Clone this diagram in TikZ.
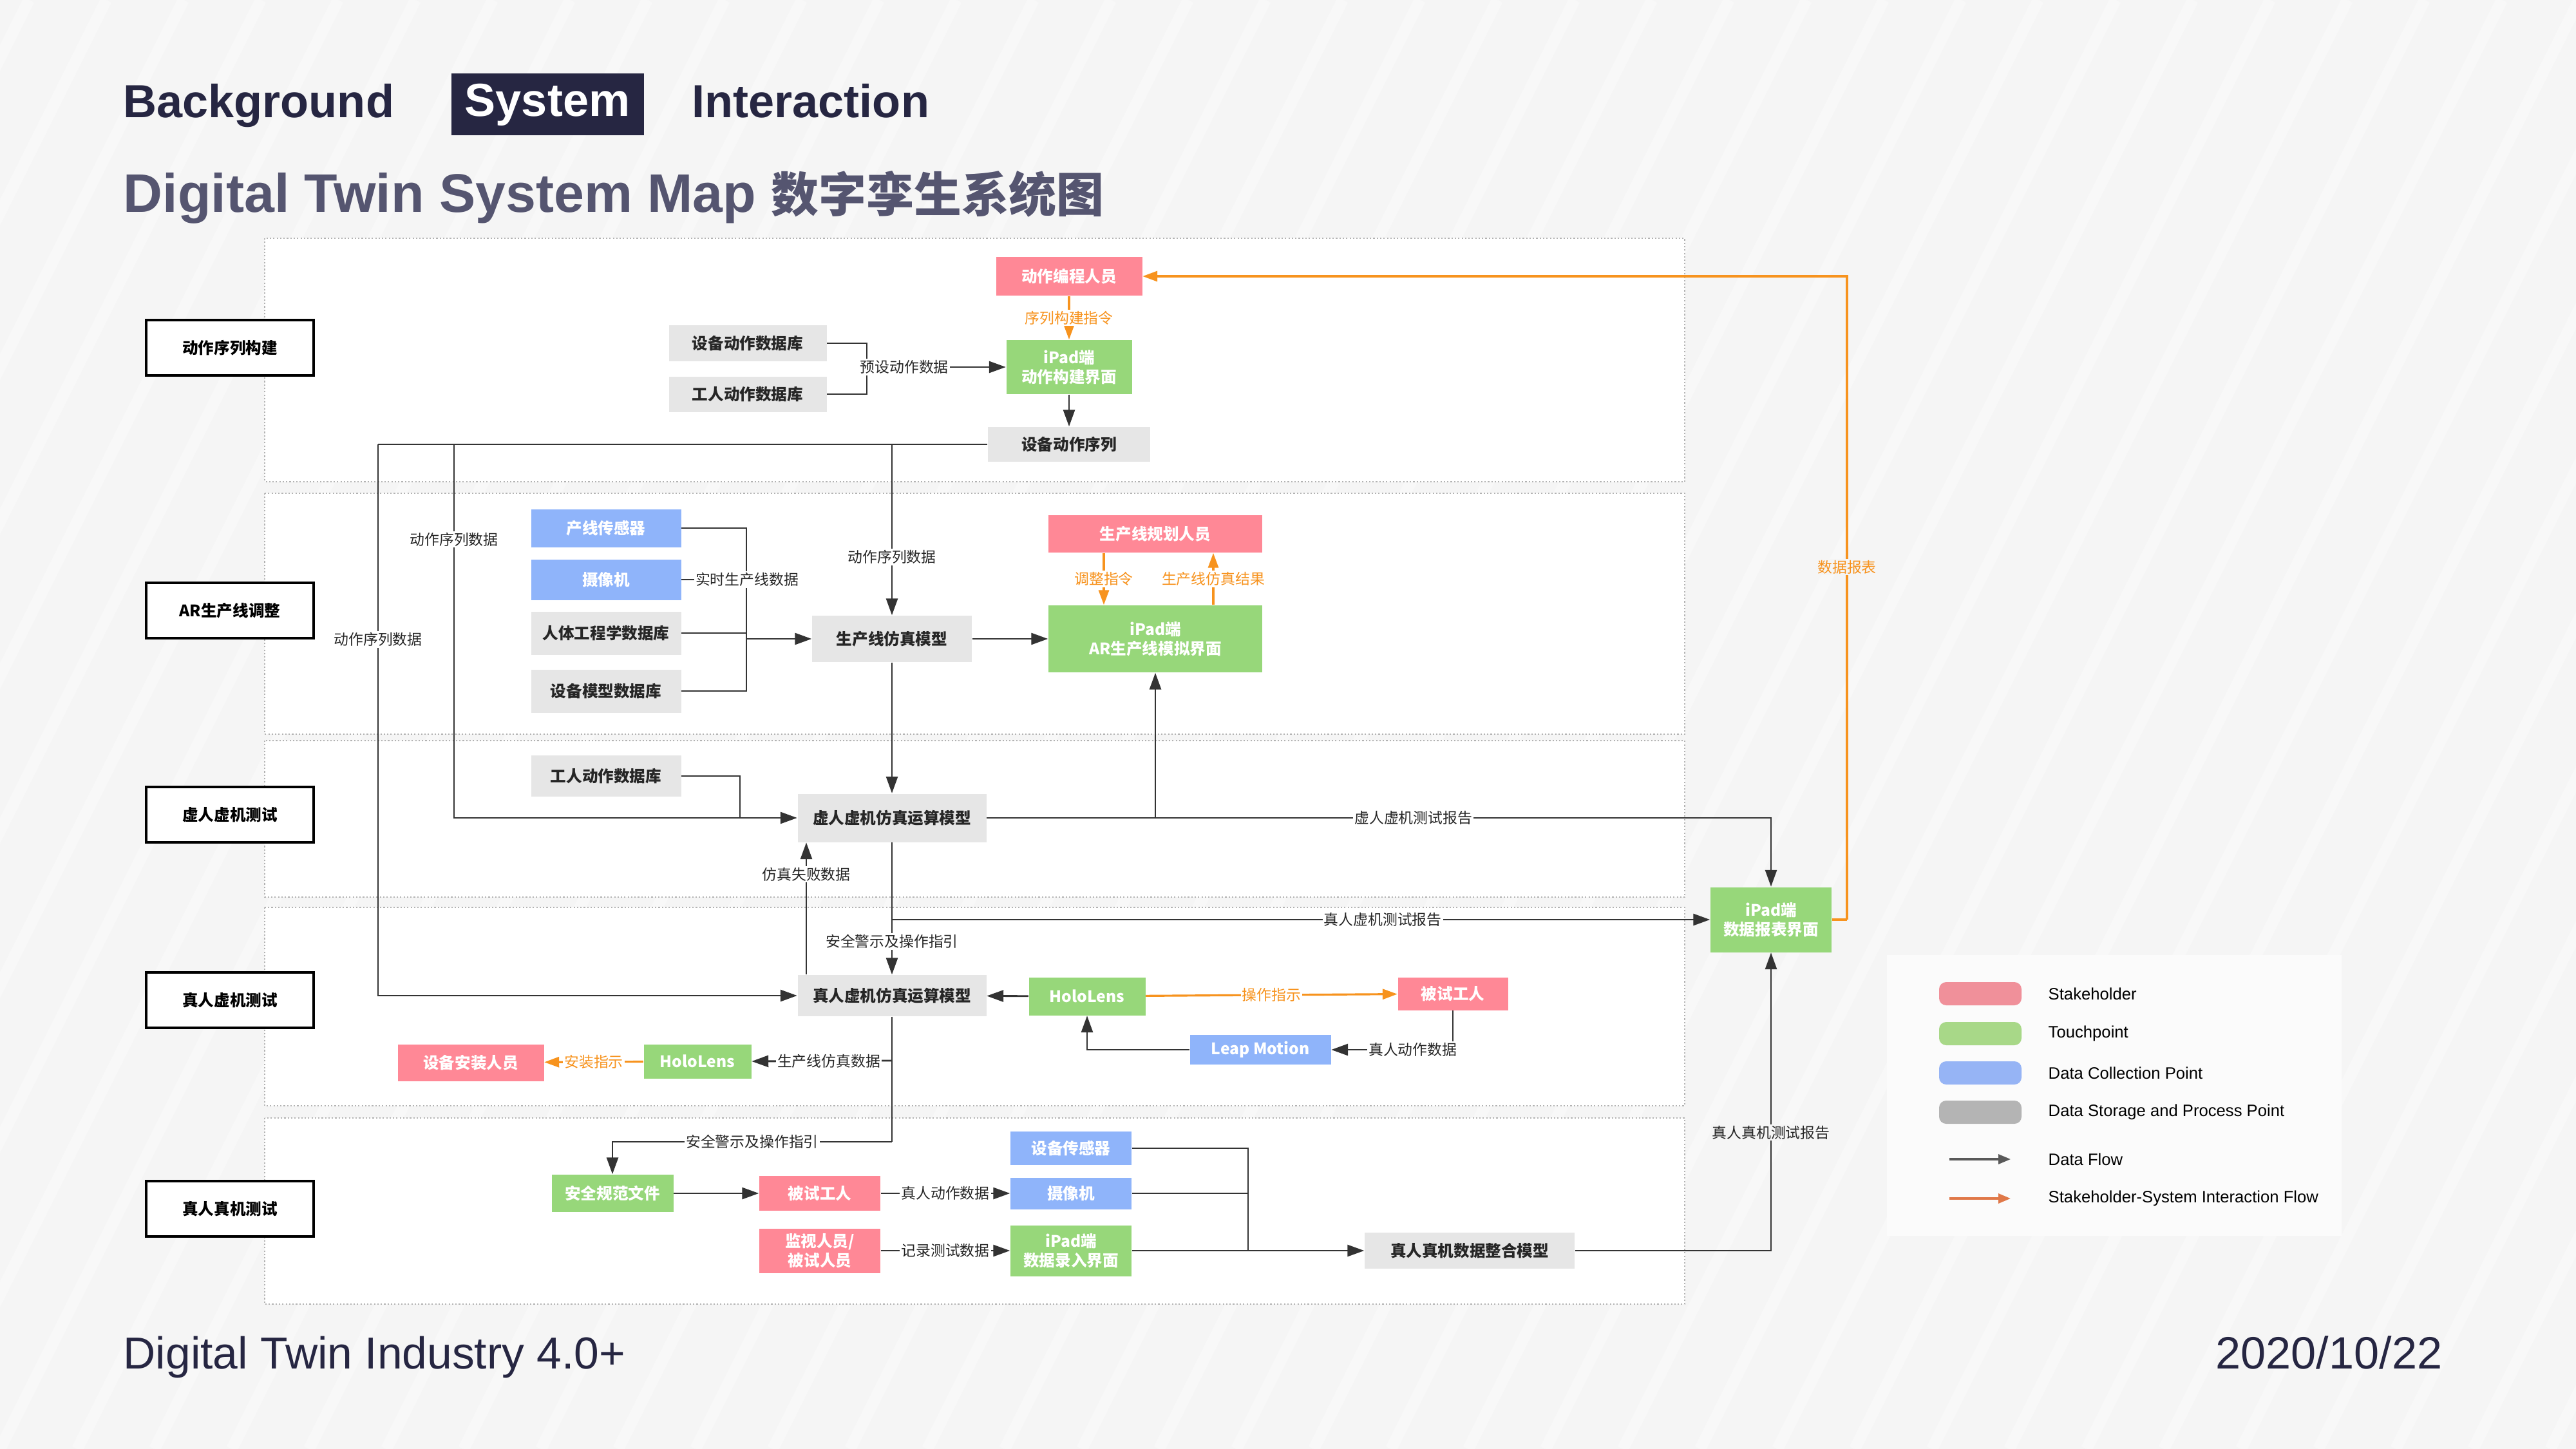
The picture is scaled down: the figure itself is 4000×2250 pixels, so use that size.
\documentclass[tikz,border=0pt]{standalone}
\usepackage{fontspec}
\setmainfont{Liberation Sans}
\newfontfamily\cjk{Noto Sans CJK SC}
\usetikzlibrary{arrows.meta}

\definecolor{bgc}{HTML}{F5F5F5}
\definecolor{stripec}{HTML}{F8F8F8}
\definecolor{navy}{HTML}{262642}
\definecolor{titlec}{HTML}{555570}
\definecolor{pinkc}{HTML}{FF8896}
\definecolor{greenc}{HTML}{97D77A}
\definecolor{bluec}{HTML}{8FB4FA}
\definecolor{grayc}{HTML}{E6E6E6}
\definecolor{linec}{HTML}{333333}
\definecolor{orangec}{HTML}{F7931E}
\definecolor{legc}{HTML}{FBFBFB}
\definecolor{legpink}{HTML}{F0909A}
\definecolor{leggreen}{HTML}{A8D888}
\definecolor{legblue}{HTML}{96B4F5}
\definecolor{leggray}{HTML}{B4B4B4}
\definecolor{legorange}{HTML}{E07848}

\newcommand\boxfont{\cjk\bfseries\fontsize{7}{8.6}\selectfont}
\newcommand\tagfont{\cjk\fontsize{6.5}{7}\selectfont}
\newcommand\headfont{\bfseries\fontsize{20.5}{24}\selectfont}
\newcommand\legfont{\fontsize{7.3}{8}\selectfont}

\begin{document}
\begin{tikzpicture}[
    x=0.1mm, y=-0.1mm,
    lanebox/.style={draw=gray!60, line width=0.6pt, dash pattern=on 0.6pt off 0.9pt, fill=white},
    lanelabel/.style={draw=black, line width=1pt, fill=white, minimum width=26mm, minimum height=8.6mm, font=\boxfont},
    stakebox/.style={fill=pinkc, text=white, font=\boxfont, align=center, inner sep=0pt},
    touchbox/.style={fill=greenc, text=white, font=\boxfont, align=center, inner sep=0pt},
    collectbox/.style={fill=bluec, text=white, font=\boxfont, align=center, inner sep=0pt},
    storebox/.style={fill=grayc, text=black!85, font=\boxfont, align=center, inner sep=0pt},
    dataline/.style={draw=linec, line width=0.8pt},
    dataflow/.style={dataline, -{Triangle[length=2.6mm,width=1.8mm]}},
    actflow/.style={draw=orangec, line width=0.9pt, -{Triangle[length=2.3mm,width=1.6mm]}},
    flowlabel/.style={font=\tagfont, fill=white, inner sep=0.6pt, text=black!85},
    ilabel/.style={font=\tagfont, fill=white, inner sep=0.6pt, text=orangec},
]

% ── Page ────────────────────────────────────────────────────
\useasboundingbox (0,0) rectangle (4000,2250);
\fill[bgc] (0,0) rectangle (4000,2250);
\begin{scope}
    \clip (0,0) rectangle (4000,2250);
    \foreach \s in {-1200,-1080,...,4000}
        \draw[stripec, line width=1.8mm] (\s,2250) -- ++(1125,-2250);
\end{scope}

% ── Heading ─────────────────────────────────────────────────
\node[anchor=base west, inner sep=0, text=navy, font=\headfont] (tabbg) at (191,183) {Background};
\node[fill=navy, text=white, font=\headfont, inner sep=0, minimum width=29.9mm,
      minimum height=9.6mm, text height=5.1mm, text depth=1.4mm] (tabsys) at (850,162) {System};
\node[anchor=base west, inner sep=0, text=navy, font=\headfont] (tabint) at (1074,183) {Interaction};
\node[anchor=base west, inner sep=0, text=titlec, font=\bfseries\fontsize{24}{28}\selectfont] (title)
    at (191,330) {Digital Twin System Map {\cjk\bfseries\fontsize{21}{25}\selectfont 数字孪生系统图}};

% ── Lanes ───────────────────────────────────────────────────
\foreach \ya/\yb in {370/748, 766/1140, 1150/1393, 1409/1717, 1736/2025}
    \draw[lanebox] (411,\ya) rectangle (2616,\yb);

\node[lanelabel] (lab1) at (357,540)  {动作序列构建};
\node[lanelabel] (lab2) at (357,948)  {AR生产线调整};
\node[lanelabel] (lab3) at (357,1265) {虚人虚机测试};
\node[lanelabel] (lab4) at (357,1553) {真人虚机测试};
\node[lanelabel] (lab5) at (357,1877) {真人真机测试};

% ── Lane 1: action sequence ─────────────────────────────────
\node[stakebox, minimum width=22.7mm, minimum height=6mm]   (coder) at (1660,429) {动作编程人员};
\node[touchbox, minimum width=19.5mm, minimum height=8.4mm] (actui) at (1660,570) {iPad端\\动作构建界面};
\node[storebox, minimum width=24.5mm, minimum height=5.6mm] (devdb) at (1161,533) {设备动作数据库};
\node[storebox, minimum width=24.5mm, minimum height=5.5mm] (workdb) at (1161,612) {工人动作数据库};
\node[storebox, minimum width=25.2mm, minimum height=5.4mm] (seq) at (1660,690) {设备动作序列};

\coordinate (j1) at (1346,570);
\draw[actflow] (coder) -- node[ilabel] {序列构建指令} (actui);
\draw[dataline] (devdb.east) -| (j1);
\draw[dataline] (workdb.east) -| (j1);
\draw[dataflow] (j1) -- node[flowlabel, pos=0.27] {预设动作数据} (actui.west);
\draw[dataflow] (actui) -- (seq);

\coordinate (s1) at (587,690);
\coordinate (s2) at (705,690);
\coordinate (s3) at (1385,690);
\draw[dataline] (seq.west) -- (s1);

% ── Lane 2: AR line adjustment ──────────────────────────────
\node[collectbox, minimum width=23.3mm, minimum height=5.9mm] (psens) at (941,820) {产线传感器};
\node[collectbox, minimum width=23.3mm, minimum height=6.3mm] (pcam) at (941,900) {摄像机};
\node[storebox, minimum width=23.3mm, minimum height=6.7mm] (ergodb) at (941,983) {人体工程学数据库};
\node[storebox, minimum width=23.3mm, minimum height=6.7mm] (moddb) at (941,1073) {设备模型数据库};
\node[storebox, minimum width=24.8mm, minimum height=7.2mm] (linesim) at (1385,992) {生产线仿真模型};
\node[stakebox, minimum width=33.2mm, minimum height=5.8mm] (planner) at (1794,829) {生产线规划人员};
\node[touchbox, minimum width=33.2mm, minimum height=10.4mm] (arui) at (1794,992) {iPad端\\AR生产线模拟界面};

\coordinate (j2) at (1159,992);
\draw[dataline] (psens.east) -| (j2);
\draw[dataline] (moddb.east) -| (j2);
\draw[dataline] (ergodb.east) -- (ergodb.east -| j2);
\draw[dataline] (pcam.east) -- (pcam.east -| j2);
\node[flowlabel] (rtlab) at (1160,900) {实时生产线数据};
\draw[dataflow] (j2) -- (linesim.west);
\draw[dataflow] (s3) -- node[flowlabel, pos=0.66] {动作序列数据} (linesim.north);
\draw[dataflow] (linesim) -- (arui);
\draw[actflow] ([xshift=-8mm]planner.south) -- node[ilabel] {调整指令} ([xshift=-8mm]arui.north);
\draw[actflow] ([xshift=9mm]arui.north) -- node[ilabel] {生产线仿真结果} ([xshift=9mm]planner.south);

% ── Lane 3: virtual worker, virtual machine ─────────────────
\node[storebox, minimum width=23.3mm, minimum height=6.4mm] (workdb2) at (941,1205) {工人动作数据库};
\node[storebox, minimum width=29.3mm, minimum height=7.5mm] (vsim) at (1385,1270) {虚人虚机仿真运算模型};
\node[touchbox, minimum width=18.8mm, minimum height=10.1mm] (report) at (2750,1428) {iPad端\\数据报表界面};

\coordinate (j3) at (1149,1270);
\draw[dataflow] (linesim) -- (vsim);
\draw[dataline] (workdb2.east) -| (j3);
\draw[dataflow] (s2) |- node[flowlabel, pos=0.127] {动作序列数据} (vsim.west);
\draw[dataflow] (vsim.east) -| node[flowlabel, pos=0.272] {虚人虚机测试报告} (report.north);
\coordinate (v1) at (arui.south |- vsim.east);
\draw[dataflow] (v1) -- (arui.south);

% ── Lane 4: real worker, virtual machine ────────────────────
\node[storebox, minimum width=29.3mm, minimum height=6.4mm] (rsim) at (1385,1546) {真人虚机仿真运算模型};
\node[touchbox, minimum width=18.1mm, minimum height=5.9mm] (holo1) at (1688,1547) {HoloLens};
\node[stakebox, minimum width=17.1mm, minimum height=5.1mm] (tester1) at (2256,1543) {被试工人};
\node[collectbox, minimum width=21.9mm, minimum height=4.6mm] (leap) at (1957,1630) {Leap Motion};
\node[stakebox, minimum width=22.7mm, minimum height=5.7mm] (installer) at (731,1650) {设备安装人员};
\node[touchbox, minimum width=16.7mm, minimum height=5.3mm] (holo2) at (1083,1648) {HoloLens};

\coordinate (v2) at (1385,1428);
\draw[dataflow] (vsim.south) -- node[flowlabel, pos=0.75] {安全警示及操作指引} (rsim.north);
\draw[dataflow] (v2) -- node[flowlabel, pos=0.6] {真人虚机测试报告} (report.west);
\draw[dataflow] ([xshift=-13.3mm]rsim.north) -- node[flowlabel, pos=0.76] {仿真失败数据} ([xshift=-13.3mm]vsim.south);
\draw[dataflow] (s1) |- node[flowlabel, pos=0.177] {动作序列数据} (rsim.west);
\draw[dataflow] (holo1) -- (rsim);
\draw[actflow] (holo1) -- node[ilabel] {操作指示} (tester1);
\draw[dataflow] (tester1.south) |- node[flowlabel, pos=0.665] {真人动作数据} (leap.east);
\draw[dataflow] (leap.west) -| (holo1.south);

\coordinate (r1) at (1385,1773);
\coordinate (r2) at (1385,1647);
\draw[actflow] (holo2) -- node[ilabel] {安装指示} (installer);
\draw[dataflow] (r2) -- node[flowlabel, pos=0.45] {生产线仿真数据} (holo2.east);

% ── Lane 5: real worker, real machine ───────────────────────
\node[touchbox, minimum width=18.9mm, minimum height=5.8mm] (safedoc) at (951,1853) {安全规范文件};
\node[stakebox, minimum width=18.8mm, minimum height=5.4mm] (tester2) at (1273,1853) {被试工人};
\node[stakebox, minimum width=18.8mm, minimum height=6.9mm] (monitor) at (1273,1942) {监视人员/\\被试人员};
\node[collectbox, minimum width=18.8mm, minimum height=5.2mm] (dsens) at (1663,1783) {设备传感器};
\node[collectbox, minimum width=18.8mm, minimum height=4.9mm] (rcam) at (1663,1853) {摄像机};
\node[touchbox, minimum width=18.8mm, minimum height=7.9mm] (entryui) at (1663,1942) {iPad端\\数据录入界面};
\node[storebox, minimum width=32.6mm, minimum height=5.6mm] (merge) at (2282,1942) {真人真机数据整合模型};

\draw[dataline] (rsim.south) -- (r1);
\draw[dataflow] (r1) -| node[flowlabel, pos=0.25] {安全警示及操作指引} (safedoc.north);
\draw[dataflow] (safedoc) -- (tester2);
\draw[dataflow] (tester2) -- node[flowlabel] {真人动作数据} (rcam);
\draw[dataflow] (monitor) -- node[flowlabel] {记录测试数据} (entryui);

\coordinate (j5) at (1938,1942);
\draw[dataline] (dsens.east) -| (j5);
\draw[dataline] (rcam.east) -- (rcam.east -| j5);
\draw[dataline] (entryui.east) -- (j5);
\draw[dataflow] (j5) -- (merge.west);
\draw[dataflow] (merge.east) -| node[flowlabel, fill=bgc, pos=0.698] {真人真机测试报告} (report.south);

% ── Report back to the coder ────────────────────────────────
\coordinate (o1) at (2868,1428);
\draw[actflow, -] (report.east) -- (o1);
\draw[actflow] (o1) |- node[ilabel, fill=bgc, pos=0.274] {数据报表} (coder.east);

% ── Legend ──────────────────────────────────────────────────
\node[fill=legc, inner sep=0, minimum width=70.6mm, minimum height=43.6mm] (legend) at (3283,1701) {};
\foreach \c/\t/\y in {legpink/Stakeholder/1543, leggreen/Touchpoint/1605,
                      legblue/Data Collection Point/1666, leggray/Data Storage and Process Point/1727} {
    \node[fill=\c, rounded corners=1.1mm, minimum width=12.8mm, minimum height=3.6mm] (sw-\y) at (3075,\y) {};
    \node[anchor=west, inner sep=0, font=\legfont] (lt-\y) at (3180,\y) {\t};
}
\coordinate (fa) at (3027,1800);
\coordinate (fb) at (3122,1800);
\coordinate (ga) at (3027,1861);
\coordinate (gb) at (3122,1861);
\draw[draw=black!65, line width=0.9pt, -{Triangle[length=1.9mm,width=1.5mm]}] (fa) -- (fb);
\draw[draw=legorange, line width=0.9pt, -{Triangle[length=1.9mm,width=1.5mm]}] (ga) -- (gb);
\node[anchor=west, inner sep=0, font=\legfont] (lt-flow) at (3180,1800) {Data Flow};
\node[anchor=west, inner sep=0, font=\legfont] (lt-act) at (3180,1861) {Stakeholder-System Interaction Flow};

% ── Footer ──────────────────────────────────────────────────
\node[anchor=base west, inner sep=0, text=navy, font=\fontsize{19.8}{23}\selectfont] (foot) at (191,2125) {Digital Twin Industry 4.0+};
\node[anchor=base east, inner sep=0, text=navy, font=\fontsize{20}{23}\selectfont] (date) at (3793,2125) {2020/10/22};

\end{tikzpicture}
\end{document}
